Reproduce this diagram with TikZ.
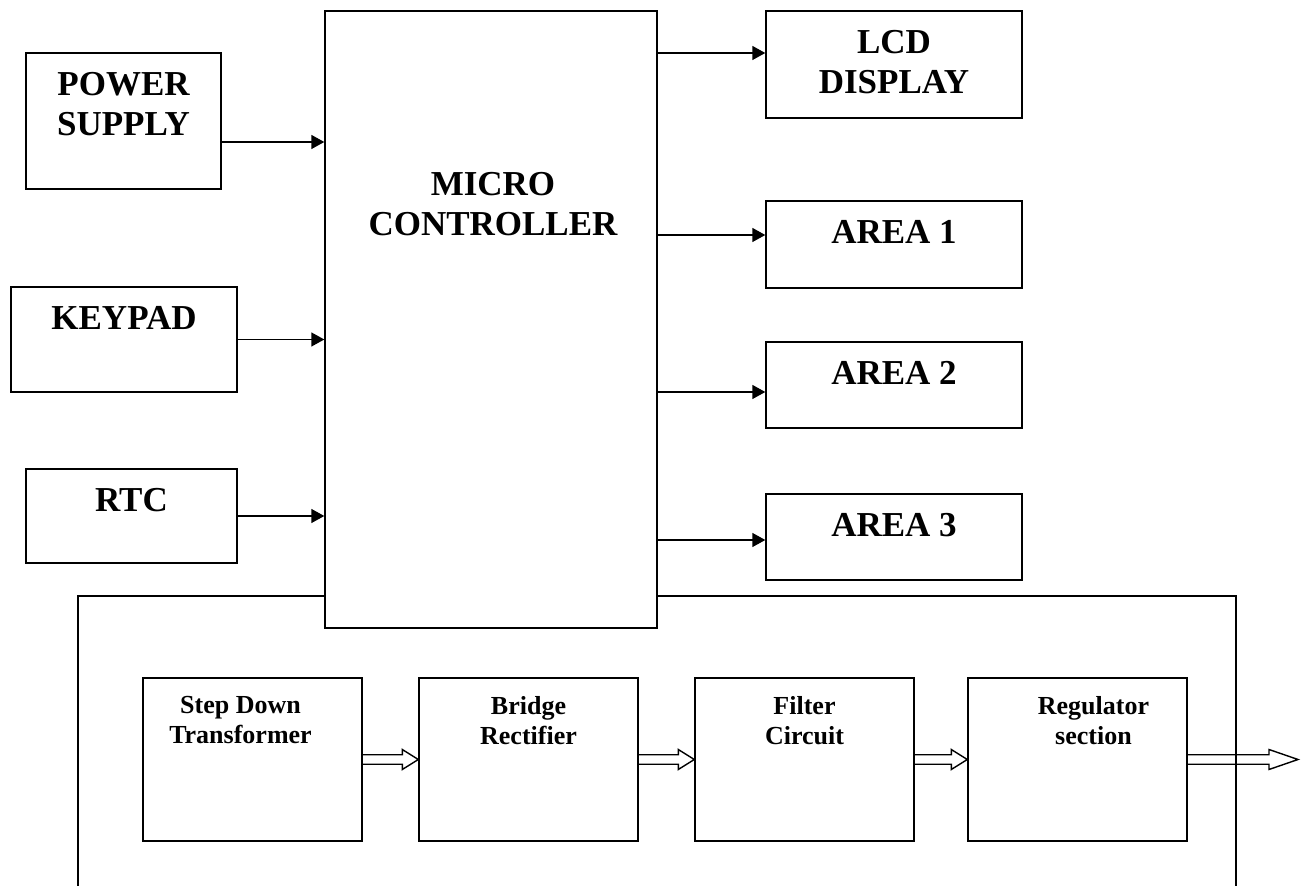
\documentclass[tikz,border=0pt]{standalone}
\usepackage{fontspec}
\setmainfont{Liberation Serif}
\usetikzlibrary{positioning,calc,arrows.meta}

\tikzset{
  blk/.style={draw, line width=0.7pt, fill=white, inner sep=0pt},
  lbl/.style={font=\bfseries\fontsize{17.5}{20}\selectfont, align=center, inner sep=0pt},
  sublbl/.style={font=\bfseries\fontsize{13}{15}\selectfont, align=center, inner sep=0pt},
  arr/.style={line width=0.7pt, -{Triangle[length=6.5pt,width=7pt]}},
  fat/.style={line width=0.7pt, line join=miter},
}

% hollow block arrow: from, to, head length
\newcommand{\fatarrow}[3]{%
  \draw[fat] ($(#1)+(0,-4.75)$) -- ($(#2)+(-#3,-4.75)$) -- ($(#2)+(-#3,-10)$) -- (#2)
    -- ($(#2)+(-#3,10)$) -- ($(#2)+(-#3,4.75)$) -- ($(#1)+(0,4.75)$);}

\begin{document}
\begin{tikzpicture}[x=0.5pt,y=-0.5pt]
  \useasboundingbox (0,0) rectangle (1306,886);

  % power supply frame
  \draw[line width=0.7pt] (78,886) |- (1236,596) -- (1236,886);

  % inputs
  \node[blk, minimum width=97.5pt, minimum height=68pt] (ps) at (123.5,121) {};
  \node[lbl, below=10pt of ps.north] (pstxt) {POWER\\SUPPLY};
  \node[blk, minimum width=113pt, minimum height=52.5pt] (kp) at (124,339.5) {};
  \node[lbl, below=10pt of kp.north] (kptxt) {KEYPAD};
  \node[blk, minimum width=105.5pt, minimum height=47pt] (rtc) at (131.5,516) {};
  \node[lbl, below=10pt of rtc.north] (rtctxt) {RTC};

  % controller
  \node[blk, minimum width=166pt, minimum height=308.5pt] (mc) at (491,319.5) {};
  \node[lbl, below=81pt of mc.north, xshift=1pt] (mctxt) {MICRO\\CONTROLLER};

  % outputs
  \node[blk, minimum width=128pt, minimum height=53.5pt] (lcd) at (894,64.5) {};
  \node[lbl, below=10pt of lcd.north] (lcdtxt) {LCD\\DISPLAY};
  \node[blk, minimum width=128pt, minimum height=43.5pt] (a1) at (894,244.5) {};
  \node[lbl, below=10pt of a1.north] (a1txt) {AREA 1};
  \node[blk, minimum width=128pt, minimum height=43pt] (a2) at (894,385) {};
  \node[lbl, below=10pt of a2.north] (a2txt) {AREA 2};
  \node[blk, minimum width=128pt, minimum height=43pt] (a3) at (894,537) {};
  \node[lbl, below=10pt of a3.north] (a3txt) {AREA 3};

  \draw[arr] (ps.east |- 0,142) -- (mc.west |- 0,142);
  \draw[arr] (kp.east) -- (kp.east -| mc.west);
  \draw[arr] (rtc.east) -- (rtc.east -| mc.west);
  \foreach \b/\y in {lcd/53, a1/235, a2/392, a3/540}
    \draw[arr] (mc.east |- 0,\y) -- (\b.west |- 0,\y);

  % supply chain
  \node[blk, minimum width=109.5pt, minimum height=81.5pt] (sd) at (252.5,759.5) {};
  \node[sublbl, below=9.5pt of sd.north, xshift=-6pt] (sdtxt) {Step Down\\Transformer};
  \node[blk, minimum width=109.5pt, minimum height=81.5pt] (br) at (528.5,759.5) {};
  \node[sublbl, below=9.5pt of br.north] (brtxt) {Bridge\\Rectifier};
  \node[blk, minimum width=109.5pt, minimum height=81.5pt] (fc) at (804.5,759.5) {};
  \node[sublbl, below=9.5pt of fc.north] (fctxt) {Filter\\Circuit};
  \node[blk, minimum width=109.5pt, minimum height=81.5pt] (rg) at (1077.5,759.5) {};
  \node[sublbl, below=9.5pt of rg.north, xshift=8pt] (rgtxt) {Regulator\\section};
  \coordinate (out) at (1298,759.5);

  \foreach \a/\b in {sd/br, br/fc, fc/rg}{
    \fatarrow{\a.east}{\b.west}{16}
  }
  \fatarrow{rg.east}{out}{29}
\end{tikzpicture}
\end{document}
